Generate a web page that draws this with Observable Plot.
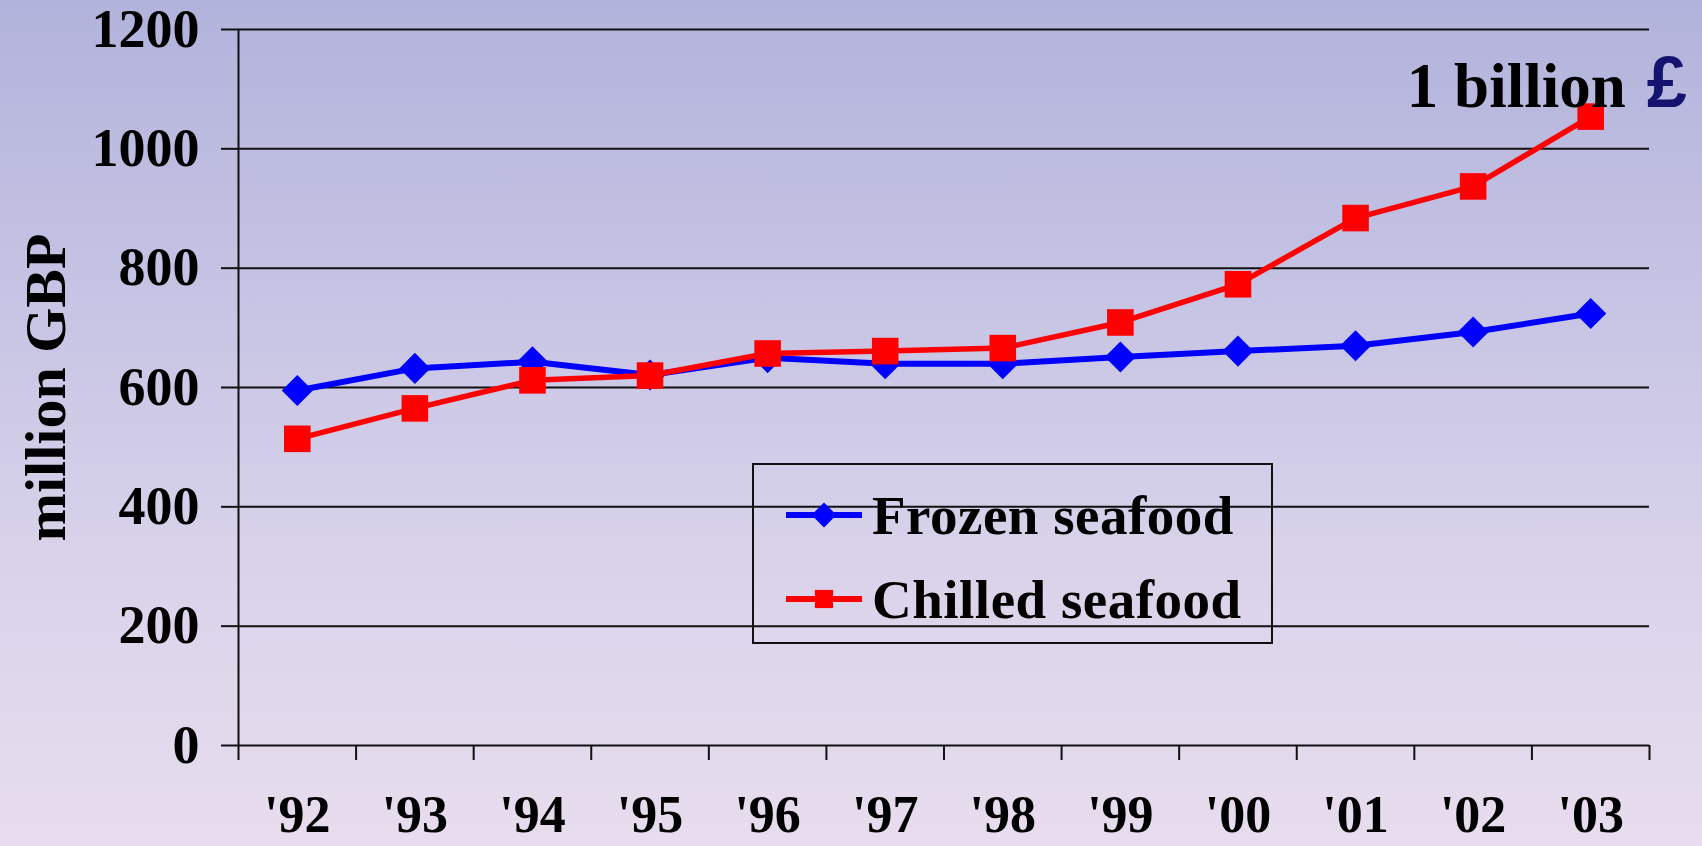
<!DOCTYPE html>
<html>
<head>
<meta charset="utf-8">
<script src="https://cdn.jsdelivr.net/npm/d3@7"></script>
<script src="https://cdn.jsdelivr.net/npm/@observablehq/plot@0.6"></script>
<style>
  html, body { margin: 0; padding: 0; }
  body {
    width: 1702px; height: 846px; overflow: hidden;
    background: linear-gradient(to bottom, #b2b3dc 0%, #c6c4e4 35%, #d8d2ea 65%, #e8ddee 100%);
    font-family: "Liberation Serif", "Times New Roman", serif;
  }
  #wrap { position: relative; width: 1702px; height: 846px; }
  #legend {
    position: absolute; left: 752px; top: 463px; width: 521px; height: 181px;
    border: 2px solid #111; box-sizing: border-box;
    font-family: "Liberation Serif", serif; font-weight: bold; font-size: 55px; color: #000;
    letter-spacing: 0.5px;
  }
  .row { position: absolute; left: 0; height: 60px; display: flex; align-items: center; }
  .row svg { margin-left: 32px; margin-right: 10px; }
</style>
</head>
<body>
<div id="wrap"></div>
<script>
// ---- data ----
const years = ["'92","'93","'94","'95","'96","'97","'98","'99","'00","'01","'02","'03"];
const frozen  = [595, 632, 643, 621, 650, 640, 640, 651, 661, 670, 693, 724];
const chilled = [514, 565, 612, 620, 657, 661, 666, 709, 773, 884, 937, 1054];
const seriesNames = ["Frozen seafood", "Chilled seafood"];
const seriesColors = ["#0000ff", "#ff0000"];
const seriesSymbols = ["diamond2", "square"];
const yTicks = [0, 200, 400, 600, 800, 1000, 1200];

const rows = [];
years.forEach((yr, i) => {
  rows.push({i: i + 0.5, year: yr, series: seriesNames[0], value: frozen[i]});
});
years.forEach((yr, i) => {
  rows.push({i: i + 0.5, year: yr, series: seriesNames[1], value: chilled[i]});
});
const frozenRows = rows.filter(d => d.series === seriesNames[0]);
const chilledRows = rows.filter(d => d.series === seriesNames[1]);
const last = chilledRows[chilledRows.length - 1];

const font = "Liberation Serif";

const chart = Plot.plot({
  width: 1702,
  height: 846,
  marginLeft: 238,
  marginRight: 53,
  marginTop: 29,
  marginBottom: 101,
  style: {background: "transparent", color: "#000", fontFamily: font, overflow: "visible"},
  x: {type: "linear", domain: [0, years.length], label: null},
  y: {domain: [0, 1200], label: null},
  marks: [
    Plot.ruleY(yTicks.filter(v => v > 0), {stroke: "#111", strokeWidth: 2}),
    Plot.axisY({ticks: yTicks, tickFormat: d => String(d), tickSize: 17, tickPadding: 22, strokeWidth: 2, stroke: "#111",
      fontSize: 54, fontWeight: "bold", fontFamily: font, label: null}),
    Plot.axisX({ticks: d3.range(0, years.length + 1), tickSize: 15, strokeWidth: 2, stroke: "#111",
      tickFormat: () => "", label: null}),
    Plot.axisX({ticks: years.map((_, i) => i + 0.5), tickSize: 0, tickPadding: 50,
      tickFormat: v => years[Math.floor(v)], fontSize: 52, fontWeight: "bold", fontFamily: font, label: null}),
    Plot.ruleX([0], {y1: 0, y2: 1200, stroke: "#111", strokeWidth: 2}),
    Plot.ruleY([0], {stroke: "#111", strokeWidth: 2}),
    Plot.text(["million GBP"], {frameAnchor: "left", textAnchor: "middle", rotate: -90, dx: -192, fontSize: 58,
      fontWeight: "bold", fontFamily: font, fill: "#000"}),
    Plot.line(frozenRows, {x: "i", y: "value", stroke: seriesColors[0], strokeWidth: 6}),
    Plot.dot(frozenRows, {x: "i", y: "value", symbol: seriesSymbols[0], r: 14, fill: seriesColors[0], stroke: "none"}),
    Plot.line(chilledRows, {x: "i", y: "value", stroke: seriesColors[1], strokeWidth: 5.5}),
    Plot.dot(chilledRows, {x: "i", y: "value", symbol: seriesSymbols[1], r: 15, fill: seriesColors[1], stroke: "none"}),
    Plot.text([last], {x: "i", y: "value", text: () => "1 billion", textAnchor: "end", lineAnchor: "bottom",
      dx: 35, dy: -10, fontSize: 63, fontWeight: "bold", fontFamily: font, fill: "#000"}),
    Plot.text([last], {x: "i", y: "value", text: () => "£", textAnchor: "start", lineAnchor: "bottom",
      dx: 56, dy: -10, fontSize: 72, fontWeight: "900", fontFamily: "Liberation Sans", fill: "#141470"})
  ]
});

const wrap = document.getElementById("wrap");
wrap.appendChild(chart);

// legend
const legend = document.createElement("div");
legend.id = "legend";
const rowTops = [20, 104];
seriesNames.forEach((name, k) => {
  const row = document.createElement("div");
  row.className = "row";
  row.style.top = rowTops[k] + "px";
  const svg = d3.create("svg").attr("width", 76).attr("height", 30);
  svg.append("line").attr("x1", 0).attr("x2", 76).attr("y1", 15).attr("y2", 15)
    .attr("stroke", seriesColors[k]).attr("stroke-width", 6);
  const sym = k === 0 ? d3.symbolDiamond2 : d3.symbolSquare;
  svg.append("path").attr("d", d3.symbol(sym, k === 0 ? 400 : 330)())
    .attr("transform", "translate(38,15)").attr("fill", seriesColors[k]);
  row.appendChild(svg.node());
  const span = document.createElement("span");
  span.textContent = name;
  row.appendChild(span);
  legend.appendChild(row);
});
wrap.appendChild(legend);
</script>
</body>
</html>
